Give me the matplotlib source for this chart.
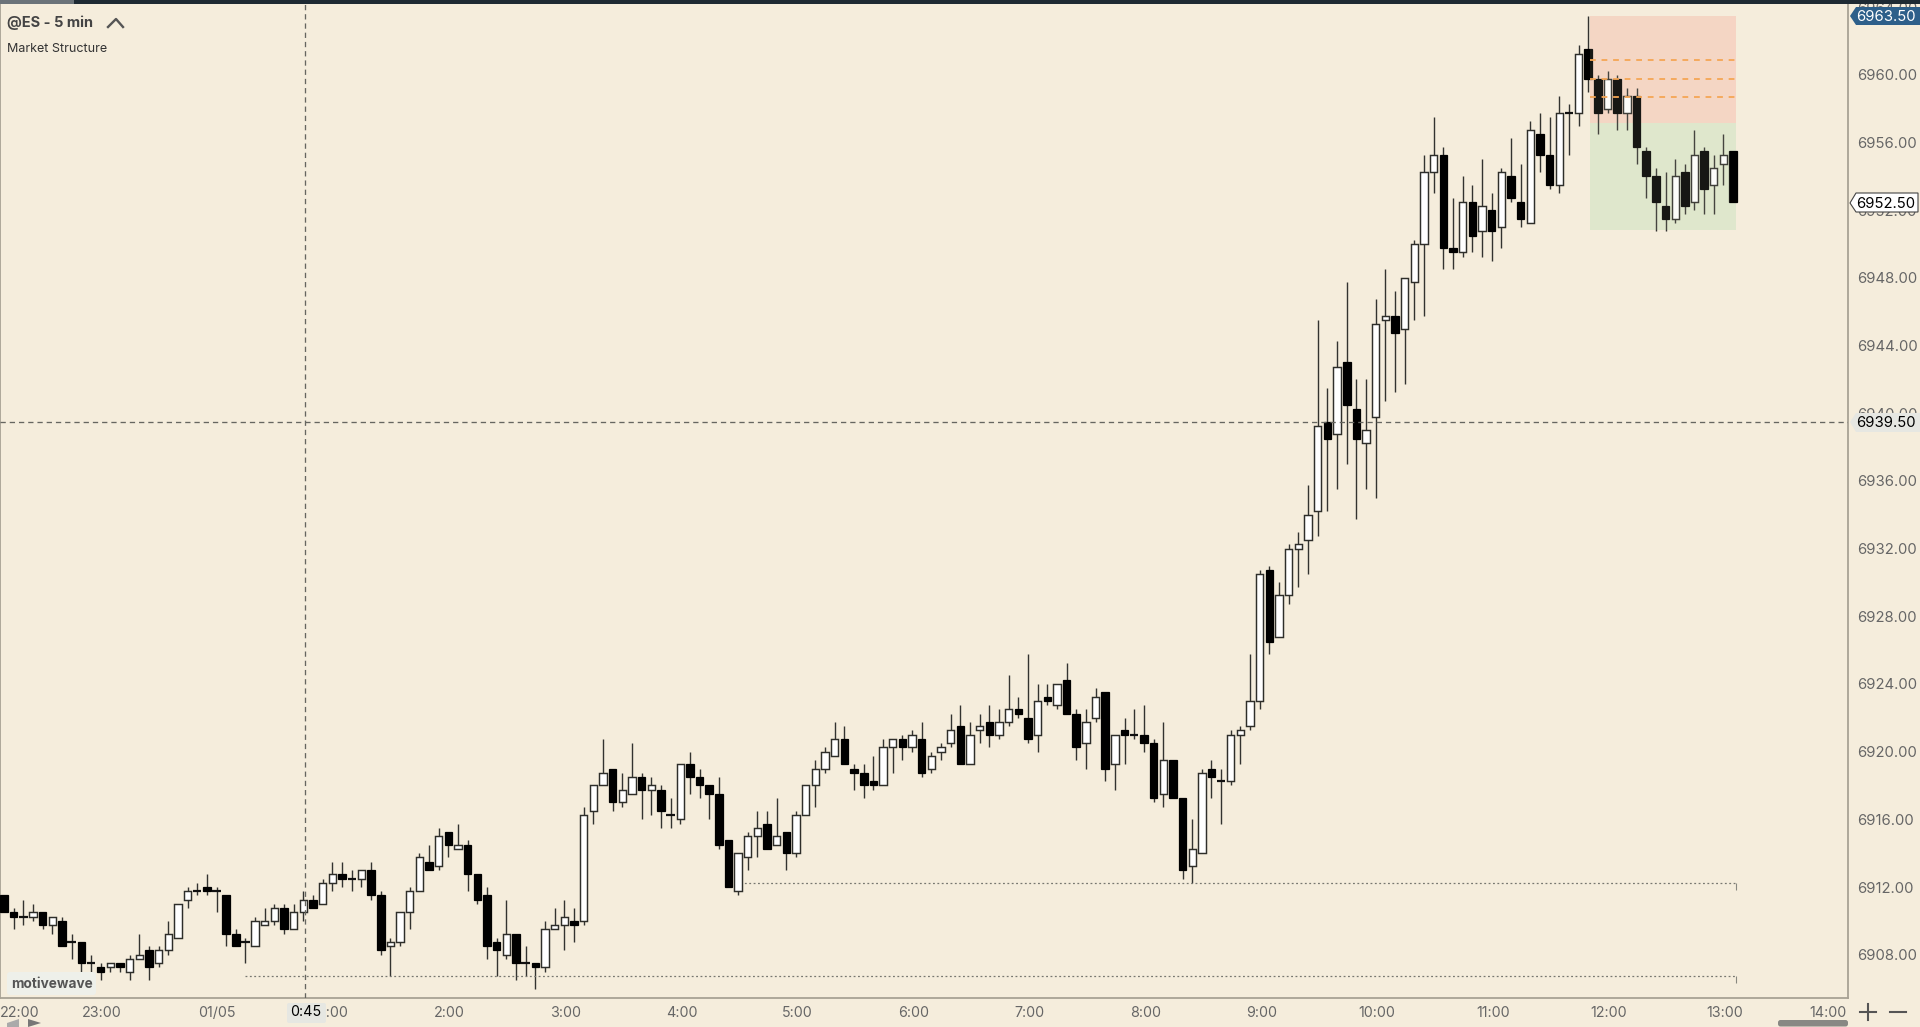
import numpy as np
import matplotlib
matplotlib.use("Agg")
import matplotlib.pyplot as plt
from matplotlib.patches import Polygon, Rectangle, FancyBboxPatch

plt.rcParams['font.family'] = ['Inter', 'DejaVu Sans']

# 5 min bars, the first one is 22:10
opens = [
    6911.5, 6910.5, 6910.25, 6910.25, 6910.5, 6909.75, 6910.0, 6908.75, 6908.75, 6907.5,
    6907.25, 6907.25, 6907.5, 6907.0, 6907.75, 6908.25, 6907.5, 6908.25, 6909.0, 6911.25,
    6911.75, 6912.0, 6911.75, 6911.5, 6909.25, 6908.75, 6908.5, 6909.75, 6910.0, 6910.75,
    6909.5, 6910.5, 6911.25, 6911.0, 6912.25, 6912.75, 6912.5, 6912.5, 6913.0, 6911.5,
    6908.5, 6908.75, 6910.5, 6911.75, 6913.5, 6913.25, 6915.25, 6914.25, 6914.5, 6912.75,
    6911.5, 6908.75, 6908.0, 6909.25, 6907.5, 6907.5, 6907.25, 6909.5, 6909.75, 6910.0,
    6910.0, 6916.5, 6918.0, 6919.0, 6917.0, 6917.5, 6918.5, 6917.75, 6917.75, 6916.25,
    6916.0, 6919.25, 6918.5, 6918.0, 6917.5, 6914.75, 6911.75, 6913.75, 6915.0, 6915.75,
    6914.5, 6915.25, 6914.0, 6916.25, 6918.0, 6919.0, 6919.75, 6920.75, 6919.0, 6918.75,
    6918.25, 6918.0, 6920.25, 6920.75, 6920.25, 6920.75, 6919.0, 6920.0, 6920.5, 6921.5,
    6919.25, 6921.25, 6921.75, 6921.0, 6921.75, 6922.5, 6922.0, 6921.0, 6923.25, 6922.75,
    6924.25, 6922.25, 6920.5, 6922.0, 6923.5, 6919.25, 6921.25, 6921.0, 6921.0, 6920.5,
    6917.5, 6919.5, 6917.25, 6913.25, 6914.0, 6919.0, 6918.25, 6918.25, 6921.0, 6921.5,
    6923.0, 6930.75, 6926.75, 6929.25, 6932.0, 6932.5, 6934.25, 6939.5, 6938.75, 6943.0,
    6940.25, 6938.25, 6939.75, 6945.5, 6945.75, 6945.0, 6947.75, 6950.0, 6954.25, 6955.25,
    6949.75, 6949.5, 6952.5, 6950.75, 6952.0, 6951.0, 6954.0, 6952.5, 6951.25, 6956.5,
    6955.25, 6953.5, 6957.75, 6957.75, 6961.5, 6959.75, 6958.0, 6959.75, 6957.75, 6958.75,
    6955.5, 6954.0, 6952.25, 6951.5, 6954.25, 6952.5, 6955.5, 6953.5, 6954.75, 6955.5,
]
highs = [
    6911.5, 6910.75, 6911.25, 6911.0, 6910.5, 6910.25, 6910.25, 6909.25, 6908.75, 6908.0,
    6907.5, 6907.5, 6907.5, 6908.0, 6909.25, 6908.5, 6908.5, 6910.0, 6911.0, 6912.0,
    6912.25, 6912.75, 6912.0, 6911.5, 6909.5, 6909.0, 6910.25, 6910.75, 6911.0, 6911.0,
    6911.0, 6911.75, 6911.5, 6912.5, 6913.5, 6913.5, 6913.0, 6913.0, 6913.5, 6911.75,
    6909.0, 6910.5, 6912.0, 6914.0, 6914.5, 6915.5, 6915.25, 6915.75, 6914.75, 6912.75,
    6912.0, 6909.0, 6911.25, 6909.25, 6908.5, 6907.5, 6910.0, 6910.75, 6911.25, 6910.75,
    6916.75, 6918.0, 6920.75, 6919.0, 6918.75, 6920.5, 6918.75, 6918.5, 6918.0, 6917.25,
    6919.25, 6920.0, 6919.0, 6918.0, 6918.5, 6914.75, 6914.0, 6915.25, 6916.5, 6916.5,
    6917.25, 6915.25, 6916.5, 6918.0, 6919.5, 6920.25, 6921.75, 6921.5, 6919.25, 6919.25,
    6919.75, 6920.75, 6920.75, 6921.0, 6921.25, 6921.75, 6920.0, 6920.5, 6922.25, 6922.75,
    6921.75, 6922.25, 6922.75, 6922.5, 6924.5, 6923.25, 6925.75, 6924.0, 6924.0, 6924.0,
    6925.25, 6922.5, 6922.5, 6923.75, 6923.5, 6921.0, 6922.0, 6922.5, 6922.75, 6920.75,
    6921.75, 6919.5, 6917.25, 6916.0, 6919.0, 6919.5, 6919.0, 6921.25, 6921.5, 6925.75,
    6930.75, 6931.0, 6930.0, 6932.25, 6933.0, 6935.75, 6945.5, 6941.5, 6944.25, 6947.75,
    6942.0, 6942.0, 6946.75, 6948.5, 6947.25, 6948.0, 6950.25, 6955.25, 6957.5, 6955.75,
    6952.75, 6954.0, 6953.5, 6955.0, 6953.0, 6954.5, 6956.25, 6954.75, 6957.25, 6957.75,
    6957.5, 6958.75, 6958.25, 6961.75, 6963.5, 6960.0, 6960.25, 6960.0, 6959.25, 6959.25,
    6955.75, 6954.5, 6954.25, 6955.0, 6954.75, 6956.75, 6955.75, 6955.25, 6956.5, 6955.5,
]
lows = [
    6910.5, 6909.5, 6909.75, 6910.0, 6909.5, 6909.25, 6908.5, 6907.75, 6907.0, 6907.0,
    6906.5, 6907.0, 6907.0, 6906.5, 6907.75, 6906.5, 6907.25, 6908.0, 6909.0, 6910.75,
    6911.5, 6911.5, 6910.5, 6908.5, 6908.5, 6907.5, 6908.5, 6909.75, 6909.75, 6909.25,
    6909.5, 6910.0, 6910.75, 6911.0, 6911.75, 6912.0, 6911.75, 6912.0, 6911.25, 6908.0,
    6906.75, 6908.5, 6909.5, 6911.75, 6913.0, 6913.0, 6913.75, 6914.25, 6911.75, 6911.0,
    6907.75, 6906.75, 6907.75, 6906.5, 6906.75, 6906.0, 6907.0, 6909.5, 6908.25, 6908.75,
    6909.75, 6915.75, 6918.0, 6916.5, 6916.75, 6917.5, 6916.0, 6916.25, 6915.5, 6915.5,
    6915.75, 6917.5, 6917.25, 6916.0, 6914.25, 6912.0, 6911.5, 6913.0, 6913.75, 6914.25,
    6914.5, 6913.0, 6913.75, 6916.25, 6916.75, 6918.75, 6919.75, 6919.25, 6917.75, 6917.25,
    6917.75, 6918.0, 6918.75, 6919.5, 6920.0, 6918.5, 6918.75, 6919.5, 6920.25, 6919.25,
    6919.25, 6920.5, 6920.25, 6920.75, 6921.5, 6922.0, 6920.5, 6920.0, 6922.75, 6922.5,
    6922.25, 6919.5, 6919.0, 6921.75, 6918.25, 6917.75, 6919.25, 6920.75, 6920.0, 6917.0,
    6916.75, 6917.25, 6912.5, 6912.25, 6914.0, 6917.25, 6915.75, 6918.0, 6919.25, 6921.25,
    6922.5, 6925.75, 6926.75, 6928.75, 6929.75, 6930.5, 6932.75, 6934.25, 6935.5, 6937.0,
    6933.75, 6935.5, 6935.0, 6940.75, 6941.25, 6941.75, 6945.5, 6945.75, 6953.0, 6948.5,
    6948.5, 6949.25, 6949.5, 6949.25, 6949.0, 6949.75, 6952.5, 6951.0, 6951.25, 6954.25,
    6953.25, 6953.0, 6955.25, 6957.0, 6959.0, 6956.5, 6957.75, 6956.75, 6956.75, 6954.75,
    6952.75, 6950.75, 6950.75, 6951.25, 6951.75, 6952.0, 6951.75, 6951.75, 6953.5, 6952.5,
]
closes = [
    6910.5, 6910.25, 6910.25, 6910.5, 6909.75, 6910.25, 6908.5, 6908.75, 6907.5, 6907.5,
    6907.0, 6907.5, 6907.25, 6907.75, 6908.0, 6907.25, 6908.25, 6909.25, 6911.0, 6911.75,
    6911.75, 6911.75, 6911.75, 6909.25, 6908.5, 6908.75, 6910.0, 6910.0, 6910.75, 6909.5,
    6910.5, 6911.25, 6910.75, 6912.25, 6912.75, 6912.5, 6912.5, 6913.0, 6911.5, 6908.25,
    6908.75, 6910.5, 6911.75, 6913.75, 6913.0, 6915.0, 6914.5, 6914.5, 6912.75, 6911.25,
    6908.5, 6908.25, 6909.25, 6907.5, 6907.5, 6907.25, 6909.5, 6909.75, 6910.25, 6909.75,
    6916.25, 6918.0, 6918.75, 6917.0, 6917.75, 6918.5, 6917.75, 6918.0, 6916.5, 6916.25,
    6919.25, 6918.5, 6918.0, 6917.5, 6914.5, 6912.0, 6914.0, 6915.0, 6915.5, 6914.25,
    6915.0, 6914.0, 6916.25, 6918.0, 6919.0, 6920.0, 6920.75, 6919.25, 6918.75, 6918.0,
    6918.0, 6920.25, 6920.75, 6920.25, 6921.0, 6918.75, 6919.75, 6920.25, 6921.25, 6919.25,
    6921.0, 6921.5, 6921.0, 6921.75, 6922.5, 6922.25, 6920.75, 6923.0, 6923.0, 6924.0,
    6922.25, 6920.25, 6921.75, 6923.25, 6919.0, 6921.0, 6921.0, 6921.0, 6920.5, 6917.25,
    6919.5, 6917.25, 6913.0, 6914.25, 6918.75, 6918.5, 6918.25, 6921.0, 6921.25, 6923.0,
    6930.5, 6926.5, 6929.25, 6932.0, 6932.25, 6934.0, 6939.25, 6938.5, 6942.75, 6940.5,
    6938.5, 6939.0, 6945.25, 6945.75, 6944.75, 6948.0, 6950.0, 6954.25, 6955.25, 6949.75,
    6949.5, 6952.5, 6950.5, 6952.25, 6950.75, 6954.25, 6952.75, 6951.5, 6956.75, 6955.25,
    6953.5, 6957.75, 6957.75, 6961.25, 6959.75, 6957.75, 6959.75, 6957.75, 6958.75, 6955.75,
    6954.0, 6952.5, 6951.5, 6954.0, 6952.25, 6955.25, 6953.25, 6954.5, 6955.25, 6952.5,
]

price_ticks = [6908, 6912, 6916, 6920, 6924, 6928, 6932, 6936, 6940, 6944, 6948, 6952, 6956, 6960, 6964]
time_labels = ['22:00', '23:00', '01/05', '1:00', '2:00', '3:00', '4:00', '5:00', '6:00', '7:00',
               '8:00', '9:00', '10:00', '11:00', '12:00', '13:00', '14:00']
# bar number of each label, the first and last are pushed in by the chart edge
time_bars = [1.66, 10.15, 22, 34.15, 46.15, 58.15, 70.15, 82.15, 94.15, 106.15, 118.15, 130.15,
             142.15, 154.15, 166.15, 178.15, 188.85]

swing_low_1 = 6906.75
swing_low_2 = 6912.25
swing_start_1 = 25
swing_start_2 = 76.2
zone_high = 6963.5
zone_mid = 6957.15
zone_low = 6950.8
zone_levels = [6960.85, 6959.75, 6958.7]
zone_start = 164.2
zone_end = 179.3
cross_bar = 31.15
cross_price = 6939.5
last_price = 6952.5
high_price = 6963.5

BG = '#f5eddc'
EDGE = '#2e2e2a'
AXIS = '#a8a294'
TEXT = '#666666'

W, H = 1920, 1027
fig = plt.figure(figsize=(W / 100, H / 100), dpi=100, facecolor=BG)
ax = fig.add_axes([0, (H - 998) / H, 1847.7 / W, 994 / H], facecolor=BG)
ax.set_xlim(-0.414, 190.86)
ax.set_ylim(6905.44, 6964.186)

opens = np.array(opens)
highs = np.array(highs)
lows = np.array(lows)
closes = np.array(closes)
bars = np.arange(len(opens))

# zones go under the candles
ax.add_patch(Rectangle((zone_start, zone_mid), zone_end - zone_start, zone_high - zone_mid,
                       fc='#f6d4c4', ec='none', zorder=1))
ax.add_patch(Rectangle((zone_start, zone_low), zone_end - zone_start, zone_mid - zone_low,
                       fc='#dfe7cd', ec='none', zorder=1))

ax.vlines(bars, lows, highs, color='#333330', lw=1.0, zorder=2)

up = closes > opens
down = closes < opens
flat = closes == opens
ax.bar(bars[up], (closes - opens)[up], bottom=opens[up], width=0.76, fc='white', ec=EDGE, lw=1.05, zorder=3)
ax.bar(bars[down], (opens - closes)[down], bottom=closes[down], width=0.78, fc='black', ec='black', lw=0.9, zorder=3)
ax.hlines(closes[flat], bars[flat] - 0.44, bars[flat] + 0.44, color='#111111', lw=1.6, zorder=3)

# overlay makes the candles under the zone a bit washed out
ax.add_patch(Rectangle((zone_start, zone_low), zone_end - zone_start - 0.6, zone_high - zone_low,
                       fc='#e8e8c8', ec='none', alpha=0.1, zorder=4))
ax.hlines(zone_levels, zone_start, zone_end, color='#f5a655', lw=1.3, linestyles=(0, (3.2, 3.2)), zorder=5)

# swing lows
ax.hlines(swing_low_1, swing_start_1, zone_end, color='#777770', lw=0.9, linestyles=(0, (1.5, 2)), zorder=2.5)
ax.hlines(swing_low_2, swing_start_2, zone_end, color='#777770', lw=0.9, linestyles=(0, (1.5, 2)), zorder=2.5)
ax.vlines([zone_end, zone_end], [swing_low_1 - 0.4, swing_low_2 - 0.4], [swing_low_1, swing_low_2],
          color='#888880', lw=0.8)

# crosshair
ax.axvline(cross_bar, color='#666660', lw=0.95, ls=(0, (4, 3)), zorder=6)
ax.axhline(cross_price, color='#666660', lw=0.95, ls=(0, (4, 3)), zorder=6)

ax.yaxis.tick_right()
ax.set_yticks(price_ticks)
ax.set_yticklabels([f'{p:.2f}' for p in price_ticks])
ax.set_xticks(time_bars)
ax.set_xticklabels(time_labels)
ax.tick_params(axis='both', length=0, labelcolor=TEXT)
ax.tick_params(axis='y', pad=7, labelsize=10.7)
ax.tick_params(axis='x', pad=5.5, labelsize=10.3)
ax.spines['top'].set_visible(False)
for side in ['left', 'right', 'bottom']:
    ax.spines[side].set_color(AXIS)
    ax.spines[side].set_linewidth(1.3)

# window chrome in pixel coordinates
ov = fig.add_axes([0, 0, 1, 1], facecolor='none')
ov.set_xlim(0, W)
ov.set_ylim(H, 0)
ov.axis('off')

ov.add_patch(Rectangle((0, 0), W, 4, fc='#1e2a33', ec='none'))
ov.add_patch(Rectangle((0, 0), 74, 4, fc='#6b7379', ec='none'))

ov.text(7, 23, '@ES - 5 min', fontsize=10.5, fontweight='bold', color='#444444', va='center', ha='left')
ov.plot([108, 116, 123], [27, 19, 27], color='#555555', lw=1.7)
ov.text(7, 48.5, 'Market Structure', fontsize=9, color='#333333', va='center', ha='left')

ov.add_patch(FancyBboxPatch((9, 974), 85, 19, boxstyle='round,pad=2,rounding_size=3', fc='#eef0ea', ec='none'))
ov.text(11, 984.5, 'motivewave', fontsize=9.8, fontweight='bold', color='#555555', va='center', ha='left')

# price tags
ov.add_patch(Polygon([(1850, 16), (1856, 7), (1920, 7), (1920, 25), (1856, 25)], fc='#2d5f8a', ec='none'))
ov.text(1886, 17, f'{high_price:.2f}', fontsize=10.7, color='white', va='center', ha='center')
ov.add_patch(Polygon([(1850, 203), (1856, 193), (1918, 193), (1918, 212), (1856, 212)], fc='white', ec='#444444', lw=0.8))
ov.text(1886, 203.5, f'{last_price:.2f}', fontsize=10.7, color='black', va='center', ha='center')
ov.add_patch(Polygon([(1850, 422), (1856, 413), (1920, 413), (1920, 432), (1856, 432)], fc='#e6e7e2', ec='none'))
ov.text(1886, 423, f'{cross_price:.2f}', fontsize=10.7, color='black', va='center', ha='center')

# crosshair time tag
ov.add_patch(FancyBboxPatch((288, 1004), 37, 18, boxstyle='round,pad=1,rounding_size=2', fc='#e6e7e2', ec='none'))
ov.text(305.5, 1012, '0:45', fontsize=10.3, color='black', va='center', ha='center')

# scroll arrows, zoom buttons and scrollbar
ov.add_patch(Polygon([(7, 1023), (19, 1019), (19, 1027), (7, 1027)], fc='#aaaaaa', ec='none'))
ov.add_patch(Polygon([(28, 1019), (41, 1023), (28, 1027)], fc='#777777', ec='none'))
ov.plot([1860, 1876], [1012, 1012], color='#555555', lw=1.5)
ov.plot([1868, 1868], [1004, 1020], color='#555555', lw=1.5)
ov.plot([1890, 1906], [1012, 1012], color='#555555', lw=1.5)
ov.add_patch(FancyBboxPatch((1780, 1022), 66, 2.5, boxstyle='round,pad=2,rounding_size=2.5', fc='#888884', ec='none'))

fig.savefig('out.png', dpi=100, facecolor=BG)
